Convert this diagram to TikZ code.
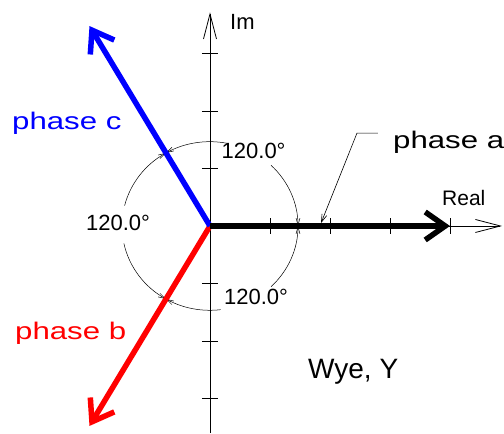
\documentclass[tikz,border=0pt]{standalone}
\usepackage{fontspec}
\setmainfont{Liberation Sans}
\newfontfamily\cadfont{Liberation Sans}[FakeStretch=1.3]
\usetikzlibrary{arrows.meta}

\begin{document}
\begin{tikzpicture}[x=1pt,y=0.958pt,
  axisline/.style={line width=0.8pt,-{Straight Barb[length=25pt,width=13pt]}},
  tickmark/.style={line width=0.8pt},
  phasor/.style={line width=5.5pt,-{Straight Barb[length=20pt,width=28pt]}},
  dimarc/.style={line width=0.5pt},
  dimtip/.tip={Straight Barb[length=7pt,width=4pt]},
  anglbl/.style={font=\fontsize{22}{22}\selectfont,inner sep=1pt},
  phlbl/.style={font=\cadfont\fontsize{24}{24}\selectfont,anchor=base west,inner sep=0pt}]
  \useasboundingbox (-210,-216.1) rectangle (294,235.9);

  \coordinate (O) at (0,0);
  \coordinate (ybot) at (0,-216.1);
  \coordinate (ytop) at (0,223);
  \coordinate (xend) at (292,0);
  \coordinate (A) at (0:240);
  \coordinate (B) at (240:241);
  \coordinate (C) at (120:241);

  \draw[axisline] (ybot) -- (ytop);
  \draw[axisline] (O) -- (xend);
  \foreach \k in {-180,-120,-60,60,120,180}
    \draw[tickmark] (-8,\k) -- (8,\k);
  \foreach \k in {60,120,180,240}
    \draw[tickmark] (\k,-8) -- (\k,8);
  \node[anchor=base west,inner sep=0pt,font=\fontsize{22}{22}\selectfont] (im) at (20,205.6) {Im};
  \node[anchor=base west,inner sep=0pt,font=\fontsize{21}{21}\selectfont] (re) at (232,21.9) {Real};

  \draw[dimarc,dimtip-] (0:88) arc[start angle=0,end angle=46,radius=88];
  \draw[dimarc,-dimtip] (78:88) arc[start angle=78,end angle=120,radius=88];
  \draw[dimarc,dimtip-] (120:88) arc[start angle=120,end angle=166,radius=88];
  \draw[dimarc,-dimtip] (192:88) arc[start angle=192,end angle=240,radius=88];
  \draw[dimarc,dimtip-] (240:88) arc[start angle=240,end angle=277,radius=88];
  \draw[dimarc,-dimtip] (314:88) arc[start angle=314,end angle=360,radius=88];
  \node[anglbl] (ang1) at (61:90) {120.0°};
  \node[anglbl] (ang2) at (178:92) {120.0°};
  \node[anglbl] (ang3) at (302:87) {120.0°};

  \draw[phasor,red] (O) -- (B);
  \draw[phasor,blue] (O) -- (C);
  \draw[phasor,black] (O) -- (A);

  \coordinate (pa) at (111,3);
  \coordinate (pk) at (147,97);
  \coordinate (pe) at (168,97);
  \draw[line width=0.6pt,-{Straight Barb[length=8pt,width=5pt]}] (pe) -- (pk) -- (pa);
  \node[phlbl] (la) at (183,81.4) {phase a};
  \node[phlbl,blue] (lc) at (-198,100.2) {phase c};
  \node[phlbl,red] (lb) at (-195,-119) {phase b};
  \node[anchor=base west,inner sep=0pt,font=\fontsize{28}{28}\selectfont] (wye) at (98,-158.7) {Wye, Y};
\end{tikzpicture}
\end{document}
